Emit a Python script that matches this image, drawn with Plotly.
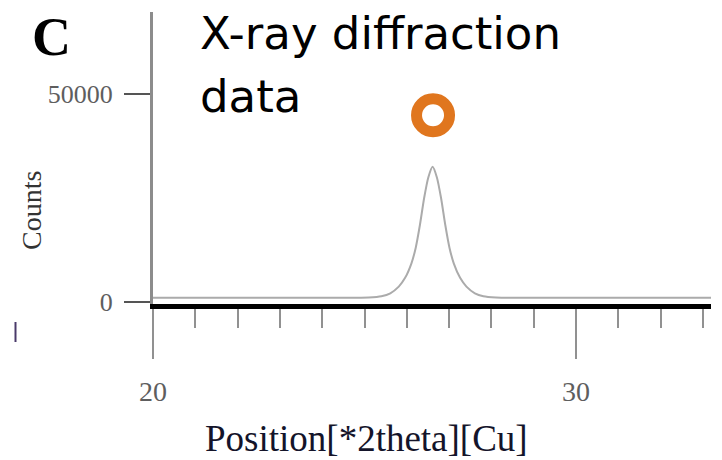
import plotly.graph_objects as go

# ---- data ----
two_theta = [20.0, 24.6, 25.1, 25.4, 25.61, 25.81, 25.96, 26.11, 26.21, 26.31, 26.41, 26.51,
             26.61, 26.71, 26.81, 26.91, 27.01, 27.11, 27.26, 27.41, 27.61, 27.81, 28.11, 28.6, 33.2]
counts    = [1000, 1000, 1100, 1400, 2100, 3700, 5800, 9300, 13000, 18500, 25000, 30000,
             32500, 30000, 25000, 18500, 13000, 9300, 5800, 3700, 2100, 1400, 1100, 1000, 1000]

marker_x = [26.62]
marker_y = [44900]

x_tick_vals = [20, 30]
x_tick_text = ["20", "30"]
y_tick_vals = [0, 50000]
y_tick_text = ["0", "50000"]

# ---- layout geometry (pixels) ----
W, H = 722, 460
L, R, T, B = 153, 711, 12, 304
PW, PH = R - L, B - T

def px(x):
    return (x - L) / PW

def py(y):
    return (B - y) / PH

fig = go.Figure()

fig.add_trace(go.Scatter(
    x=two_theta, y=counts, mode="lines",
    line=dict(color="#ababab", width=2, shape="spline", smoothing=0.6),
    hoverinfo="skip", showlegend=False,
))

fig.add_trace(go.Scatter(
    x=marker_x, y=marker_y, mode="markers",
    marker=dict(symbol="circle-open", size=33, color="#e0761e",
                line=dict(color="#e0761e", width=11)),
    hoverinfo="skip", showlegend=False,
))

serif = "Liberation Serif"

fig.update_layout(
    width=W, height=H,
    margin=dict(l=L, r=W - R, t=T, b=H - B, pad=0),
    paper_bgcolor="white", plot_bgcolor="white",
    xaxis=dict(
        range=[20, 20 + (R - L) / 42.3],
        showgrid=False, zeroline=False,
        showline=True, linecolor="#000000", linewidth=5,
        tickmode="array", tickvals=x_tick_vals, ticktext=x_tick_text,
        ticks="outside", ticklen=50, tickwidth=2, tickcolor="#919191",
        tickfont=dict(family=serif, size=28, color="#5e5e5e"),
        ticklabelstandoff=8,
        minor=dict(tickmode="linear", tick0=20, dtick=1, ticks="outside",
                   ticklen=19, tickwidth=2, tickcolor="#919191", showgrid=False),
        fixedrange=True,
    ),
    yaxis=dict(
        range=[-(B - 302) * 50000 / 208, (302 - T) * 50000 / 208],
        showgrid=False, zeroline=False,
        showline=True, linecolor="#8c8c8c", linewidth=3,
        tickmode="array", tickvals=y_tick_vals, ticktext=y_tick_text,
        ticks="outside", ticklen=26, tickwidth=2, tickcolor="#555555",
        tickfont=dict(family=serif, size=26, color="#5e5e5e"),
        ticklabelstandoff=6,
        fixedrange=True,
    ),
)

annotations = [
    dict(text="<b>C</b>", x=px(51), y=py(37),
         font=dict(family=serif, size=54, color="#000000")),
    dict(text="X-ray diffraction", x=px(198), y=py(34), xanchor="left",
         font=dict(family="DejaVu Sans", size=45, color="#000000")),
    dict(text="data", x=px(198), y=py(96), xanchor="left",
         font=dict(family="DejaVu Sans", size=45, color="#000000")),
    dict(text="Counts", x=px(32), y=py(211), textangle=-90,
         font=dict(family=serif, size=28, color="#333333")),
    dict(text="Position[*2theta][Cu]", x=px(366), y=py(438),
         font=dict(family=serif, size=37, color="#14142a")),
]
for a in annotations:
    a.setdefault("xanchor", "center")
    a.setdefault("yanchor", "middle")
    a.update(xref="paper", yref="paper", showarrow=False)
fig.update_layout(annotations=annotations)

# small stray mark at the left edge of the original picture
fig.add_shape(type="line", xref="paper", yref="paper",
              x0=px(15.5), x1=px(15.5), y0=py(322), y1=py(342),
              line=dict(color="#4a3a6a", width=2))

fig.write_html("out.html")
